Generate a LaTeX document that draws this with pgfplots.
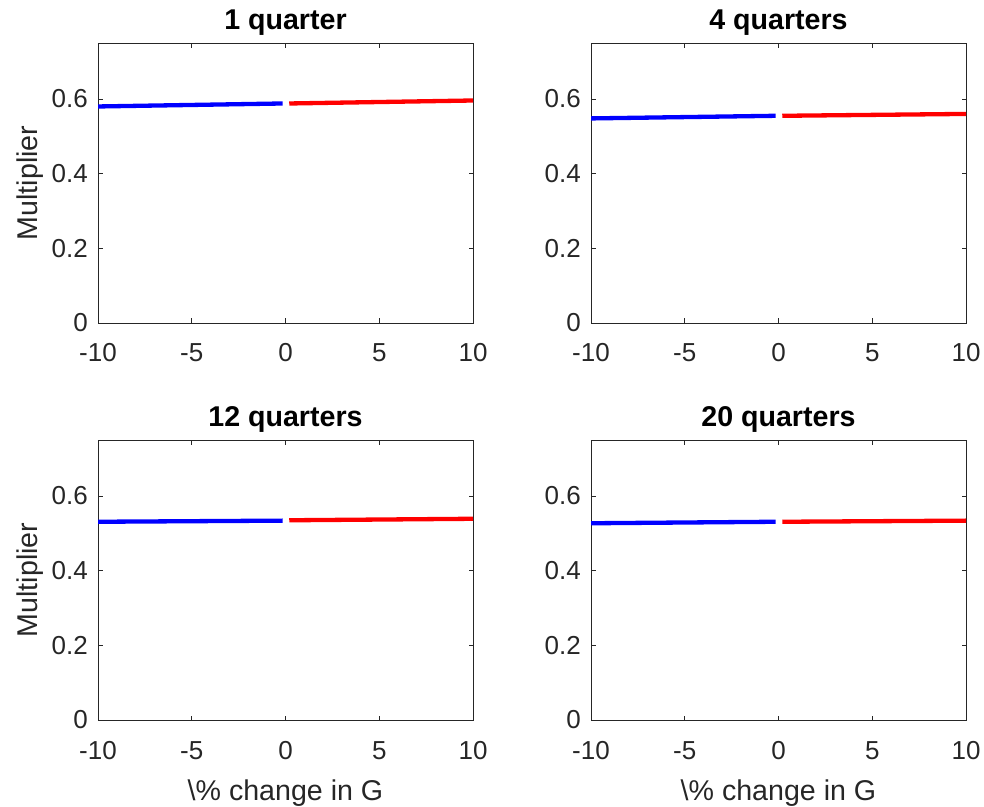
\documentclass[border=0pt]{standalone}
\usepackage{pgfplots}
\pgfplotsset{compat=1.18}
\usepackage{fontspec}
\setmainfont{Liberation Sans}
\definecolor{axgray}{rgb}{0.15,0.15,0.15}
\pgfplotsset{
  mystyle/.style={
    scale only axis, width=375pt, height=280pt,
    xmin=-10,xmax=10,ymin=0,ymax=0.75,
    xtick={-10,-5,0,5,10}, ytick={0,0.2,0.4,0.6},
    tick align=inside, major tick length=4.5pt,
    axis line style={axgray, line width=0.8pt},
    tick style={axgray, line width=0.8pt},
    /pgf/number format/assume math mode=true,
    every tick label/.append style={font=\fontsize{26}{30}\selectfont, text=axgray},
    xticklabel style={anchor=base, inner sep=0pt, yshift=-39pt},
    yticklabel style={anchor=east, inner sep=0pt, xshift=-10pt},
    title style={font=\fontsize{28.6}{32}\selectfont\bfseries, at={(axis description cs:0.5,1)}, anchor=base, yshift=8pt},
    xlabel style={font=\fontsize{28.6}{32}\selectfont, text=axgray, at={(axis description cs:0.5,0)}, anchor=base, yshift=-80pt},
    ylabel style={font=\fontsize{28.6}{32}\selectfont, text=axgray, at={(axis description cs:-0.181,0.5)}, anchor=center},
    clip=true,
  },
  bl/.style={blue, line width=4.3pt},
  rd/.style={red, line width=4.3pt},
}
\begin{document}
\begin{tikzpicture}
\path[use as bounding box] (0,0) rectangle (984pt,806pt);
% top-left
\begin{axis}[mystyle, at={(98pt,483pt)}, anchor=south west, title={1 quarter}, ylabel={Multiplier}]
\addplot[bl] coordinates {(-10,0.580) (-0.15,0.588)};
\addplot[rd] coordinates {(0.2,0.588) (10,0.596)};
\end{axis}
% top-right
\begin{axis}[mystyle, at={(591pt,483pt)}, anchor=south west, title={4 quarters}]
\addplot[bl] coordinates {(-10,0.548) (-0.15,0.555)};
\addplot[rd] coordinates {(0.2,0.555) (10,0.560)};
\end{axis}
% bottom-left
\begin{axis}[mystyle, at={(98pt,86pt)}, anchor=south west, title={12 quarters}, ylabel={Multiplier}, xlabel={\textbackslash\% change in G}]
\addplot[bl] coordinates {(-10,0.531) (-0.15,0.534)};
\addplot[rd] coordinates {(0.2,0.535) (10,0.539)};
\end{axis}
% bottom-right
\begin{axis}[mystyle, at={(591pt,86pt)}, anchor=south west, title={20 quarters}, xlabel={\textbackslash\% change in G}]
\addplot[bl] coordinates {(-10,0.527) (-0.15,0.531)};
\addplot[rd] coordinates {(0.2,0.531) (10,0.534)};
\end{axis}
\end{tikzpicture}
\end{document}
